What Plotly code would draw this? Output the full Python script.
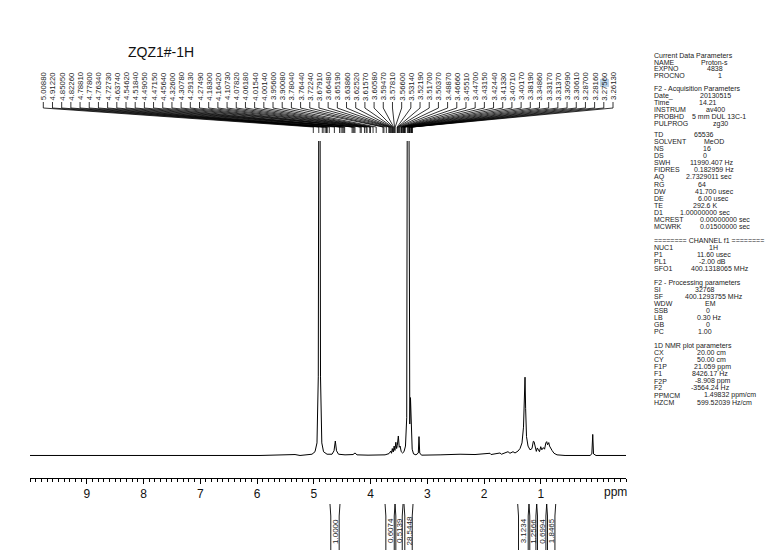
import plotly.graph_objects as go

# ---------------- data ----------------
TITLE = "ZQZ1#-1H"

# spectrum trace vertices (ppm, relative intensity; 1.0 = top of plot frame)
spec_ppm = [10.0, 8.767, 7.886, 7.005, 6.124, 5.948, 5.331, 5.243, 5.032, 4.979, 4.944, 4.921,
            4.908, 4.894, 4.882, 4.859, 4.829, 4.767, 4.679, 4.644, 4.621, 4.600, 4.565,
            4.450, 4.309, 4.274, 4.239, 4.080, 4.045, 3.745, 3.675, 3.645, 3.631, 3.617,
            3.601, 3.585, 3.571, 3.555, 3.541, 3.529, 3.511, 3.495, 3.479, 3.460, 3.437,
            3.411, 3.385, 3.363, 3.349, 3.330, 3.318, 3.309, 3.297, 3.284, 3.267, 3.243,
            3.200, 3.159, 3.147, 3.134, 3.103, 2.776, 2.424, 2.160, 2.037, 1.896, 1.878,
            1.720, 1.694, 1.614, 1.579, 1.544, 1.491, 1.455, 1.403, 1.367, 1.332, 1.306,
            1.290, 1.279, 1.268, 1.253, 1.226, 1.191, 1.156, 1.133, 1.120, 1.103, 1.080,
            1.062, 1.041, 1.024, 1.002, 0.983, 0.956, 0.935, 0.912, 0.897, 0.882, 0.861,
            0.847, 0.830, 0.803, 0.768, 0.715, 0.574, 0.134, 0.102, 0.086, 0.072, 0.028, -0.500]
spec_int = [0.0, 0.0, 0.0, 0.0, 0.001, 0.0, 0.003, 0.0, 0.004, 0.012, 0.04, 0.25,
            1.6, 1.6, 0.25, 0.04, 0.012, 0.004, 0.004, 0.015, 0.046, 0.015, 0.004,
            0.002, 0.003, 0.008, 0.002, 0.003, 0.001, 0.002, 0.006, 0.014, 0.007, 0.022,
            0.011, 0.030, 0.016, 0.042, 0.022, 0.032, 0.062, 0.026, 0.030, 0.012, 0.008,
            0.012, 0.030, 0.12, 1.6, 1.6, 0.2, 0.1, 0.184, 0.06, 0.02, 0.005,
            0.002, 0.008, 0.06, 0.008, 0.001, 0.002, 0.004, 0.003, 0.005, 0.007, 0.003,
            0.008, 0.004, 0.010, 0.012, 0.007, 0.012, 0.008, 0.014, 0.022, 0.040, 0.09,
            0.2, 0.249, 0.15, 0.06, 0.03, 0.018, 0.022, 0.045, 0.044, 0.025, 0.013,
            0.024, 0.015, 0.012, 0.028, 0.018, 0.025, 0.020, 0.040, 0.044, 0.034, 0.041,
            0.030, 0.026, 0.016, 0.007, 0.002, 0.0, 0.0, 0.005, 0.067, 0.005, 0.0, 0.0]

peak_picks = [5.00880, 4.91220, 4.85050, 4.82260, 4.78810, 4.77800, 4.76340, 4.72730,
              4.63740, 4.54620, 4.51840, 4.49050, 4.47150, 4.45640, 4.32600, 4.30780,
              4.29130, 4.27490, 4.18300, 4.16420, 4.10730, 4.07820, 4.06180, 4.01540,
              4.00140, 3.95600, 3.90080, 3.78040, 3.76440, 3.72240, 3.67910, 3.66480,
              3.65190, 3.63860, 3.62520, 3.61570, 3.60580, 3.59470, 3.57810, 3.56600,
              3.53140, 3.52190, 3.51700, 3.50370, 3.48870, 3.46660, 3.45510, 3.44700,
              3.43150, 3.42440, 3.41330, 3.40710, 3.40170, 3.38190, 3.34860, 3.33170,
              3.31370, 3.30990, 3.30610, 3.28700, 3.28160, 3.27560, 3.26130]

integral_start = [4.715, 3.745, 3.569, 3.411, 1.408, 1.209, 1.073, 0.897]
integral_end = [4.539, 3.569, 3.428, 3.252, 1.209, 1.073, 0.897, 0.738]
integral_values = ["1.0000", "0.6074", "0.5139", "28.5448", "3.1234", "1.2566", "0.6994", "1.8465"]

tick_vals = [10, 9, 8, 7, 6, 5, 4, 3, 2, 1, 0]
tick_text = ["", "9", "8", "7", "6", "5", "4", "3", "2", "1", ""]

param_labels = ["Current Data Parameters", "NAME", "EXPNO", "PROCNO",
                "F2 - Acquisition Parameters", "Date_", "Time", "INSTRUM", "PROBHD", "PULPROG",
                "TD", "SOLVENT", "NS", "DS", "SWH", "FIDRES", "AQ", "RG", "DW", "DE", "TE",
                "D1", "MCREST", "MCWRK",
                "======== CHANNEL f1 ========", "NUC1", "P1", "PL1", "SFO1",
                "F2 - Processing parameters", "SI", "SF", "WDW", "SSB", "LB", "GB", "PC",
                "1D NMR plot parameters", "CX", "CY", "F1P", "F1", "F2P", "F2", "PPMCM", "HZCM"]
param_values = ["", "Proton-s", "4838", "1",
                "", "20130515", "14.21", "av400", "5 mm DUL 13C-1", "zg30",
                "65536", "MeOD", "16", "0", "11990.407 Hz", "0.182959 Hz", "2.7329011 sec", "64",
                "41.700 usec", "6.00 usec", "292.6 K",
                "1.00000000 sec", "0.00000000 sec", "0.01500000 sec",
                "", "1H", "11.60 usec", "-2.00 dB", "400.1318065 MHz",
                "", "32768", "400.1293755 MHz", "EM", "0", "0.30 Hz", "0", "1.00",
                "", "20.00 cm", "50.00 cm", "21.059 ppm", "8426.17 Hz", "-8.908 ppm",
                "-3564.24 Hz", "1.49832 ppm/cm", "599.52039 Hz/cm"]

# ---------------- layout constants (page pixels) ----------------
PAGE_W, PAGE_H = 775, 558
BODY = 8                # default page body margin around the plot div
L, W = 30, 596          # plot area left / width (page px)
T, H = 141, 337         # plot area top / height (page px)
X_LEFT, X_RIGHT = 10.0, -0.5
Y_MIN, Y_MAX = -0.0716, 1.0

param_y = [55, 62, 69, 76, 89, 96, 102.5, 109.5, 116.5, 123.5, 134, 141, 148, 155, 162, 169,
           176.5, 184.5, 191.5, 198, 205, 212, 219, 226, 240.5, 247.6, 254.4, 261.5, 268.6,
           282.5, 289.2, 296.4, 303.5, 310.6, 317.4, 324.5, 331.6, 345.5, 352.6, 359.4,
           366.5, 373.6, 381.2, 387.9, 395, 402.2]
param_vx = [0, 699, 705, 716, 0, 698, 697, 704, 690, 711, 692, 702, 701, 701, 688, 692, 684,
            696, 693, 696, 691, 678, 698, 698, 0, 707, 695, 697, 689, 0, 693, 683, 703, 704,
            695, 704, 696, 0, 695, 695, 692, 690, 693, 689, 702, 695]
PARAM_X = 652


def py2paper(py):
    return (T + H - py) / H


def px2paper(px):
    return (px - L) / W


def px2ppm(px):
    return X_LEFT - (px - L) / W * (X_LEFT - X_RIGHT)


PPM_PER_PX = (X_LEFT - X_RIGHT) / W
FONT = "Liberation Sans, Arial, sans-serif"
TXT = "#1a1a1a"

fig = go.Figure()
fig.add_trace(go.Scatter(x=spec_ppm, y=spec_int, mode="lines",
                         line=dict(color="black", width=1), hoverinfo="skip"))

shapes = []
annotations = []

# peak pick labels and connector lines
n = len(peak_picks)
lab_first, lab_last = 43.3, 613.0
for i, p in enumerate(peak_picks):
    lx_px = lab_first + i * (lab_last - lab_first) / (n - 1)
    lx = px2ppm(lx_px)
    annotations.append(dict(x=lx, y=py2paper(86), xref="x", yref="paper",
                            text=f"{p:.5f}", textangle=-90, showarrow=False,
                            xanchor="center", yanchor="middle",
                            font=dict(size=7.8, color=TXT, family=FONT)))
    path = (f"M {lx} {py2paper(102)} L {lx} {py2paper(108)} "
            f"L {p} {py2paper(127)} L {p} {py2paper(133)}")
    shapes.append(dict(type="path", path=path, xref="x", yref="paper",
                       line=dict(color="black", width=0.8)))

# highlight artifact on one label
shapes.append(dict(type="rect", xref="paper", yref="paper",
                   x0=px2paper(600), x1=px2paper(609), y0=py2paper(87), y1=py2paper(79),
                   fillcolor="#a8c8e6", line=dict(width=0), layer="below", opacity=0.8))

# integrals
for a, b, v in zip(integral_start, integral_end, integral_values):
    d = PPM_PER_PX
    left = f"M {a} {py2paper(504)} L {a - 0.8 * d} {py2paper(516)} L {a - 0.8 * d} {py2paper(550)}"
    right = f"M {b} {py2paper(504)} L {b + 0.8 * d} {py2paper(516)} L {b + 0.8 * d} {py2paper(550)}"
    for pth in (left, right):
        shapes.append(dict(type="path", path=pth, xref="x", yref="paper",
                           line=dict(color="black", width=0.9)))
    annotations.append(dict(x=(a + b) / 2, y=py2paper(531), xref="x", yref="paper",
                            text=v, textangle=-90, showarrow=False,
                            xanchor="center", yanchor="middle",
                            font=dict(size=8, color=TXT, family=FONT)))

# title
annotations.append(dict(x=px2paper(161), y=py2paper(52), xref="paper", yref="paper",
                        text=TITLE, showarrow=False, xanchor="center", yanchor="middle",
                        font=dict(size=14, color="#111", family=FONT)))
# ppm unit label
annotations.append(dict(x=px2paper(615), y=py2paper(492), xref="paper", yref="paper",
                        text="ppm", showarrow=False, xanchor="center", yanchor="middle",
                        font=dict(size=12, color="#111", family=FONT)))

# parameter panel
for lab, val, y, vx in zip(param_labels, param_values, param_y, param_vx):
    annotations.append(dict(x=px2paper(PARAM_X), y=py2paper(y), xref="paper", yref="paper",
                            text=lab, showarrow=False, xanchor="left", yanchor="middle",
                            font=dict(size=7, color=TXT, family=FONT)))
    if val:
        annotations.append(dict(x=px2paper(vx), y=py2paper(y), xref="paper", yref="paper",
                                text=val, showarrow=False, xanchor="left", yanchor="middle",
                                font=dict(size=7, color=TXT, family=FONT)))

minor_vals = [round(10 - k * 0.1, 1) for k in range(0, 106)]

fig_w, fig_h = PAGE_W - BODY, PAGE_H - BODY
m_l, m_t = L - BODY, T - BODY
fig.update_layout(
    width=fig_w, height=fig_h,
    margin=dict(l=m_l, r=fig_w - m_l - W, t=m_t, b=fig_h - m_t - H, pad=0),
    paper_bgcolor="white", plot_bgcolor="white",
    showlegend=False,
    shapes=shapes, annotations=annotations,
    xaxis=dict(range=[X_LEFT, X_RIGHT], showgrid=False, zeroline=False,
               showline=True, linecolor="black", linewidth=1,
               tickmode="array", tickvals=tick_vals, ticktext=tick_text,
               ticks="outside", ticklen=5, tickwidth=1, tickcolor="black",
               tickfont=dict(size=12, color="#111", family=FONT),
               minor=dict(tickmode="array", tickvals=minor_vals, ticks="outside",
                          ticklen=3, tickwidth=0.8, tickcolor="black", showgrid=False)),
    yaxis=dict(range=[Y_MIN, Y_MAX], visible=False, showgrid=False, zeroline=False),
)

fig.write_html("out.html")
